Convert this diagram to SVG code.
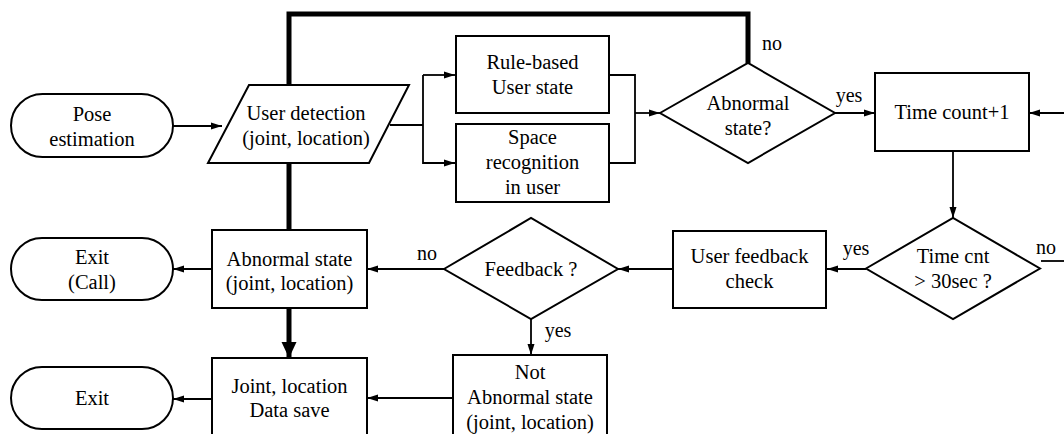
<svg xmlns="http://www.w3.org/2000/svg" width="1064" height="434" viewBox="0 0 1064 434">
<style>
.s{fill:#fff;stroke:#000;stroke-width:2}
.c{fill:none;stroke:#000;stroke-width:1.8}
.k{fill:none;stroke:#000;stroke-width:5}
text{font-family:'Liberation Serif','Times New Roman',serif;font-size:20.5px;fill:#000;text-anchor:middle}
.l{font-size:20px}
</style>
<defs>
<marker id="a" markerUnits="userSpaceOnUse" markerWidth="11" markerHeight="8" refX="11" refY="4" orient="auto"><path d="M0,0.5 L11,4 L0,7.5 z" fill="#000"/></marker>
<marker id="b" markerUnits="userSpaceOnUse" markerWidth="16" markerHeight="16" refX="16" refY="8" orient="auto"><path d="M0,0.5 L16,8 L0,15.5 z" fill="#000"/></marker>
</defs>
<rect width="1064" height="434" fill="#fff"/>
<g id="connectors">
<polyline class="k" points="289,85 289,14 748,14 748,63"/>
<line class="k" x1="289" y1="163" x2="289" y2="230"/>
<line class="k" x1="289" y1="308" x2="289" y2="358" marker-end="url(#b)"/>
<line class="c" x1="173" y1="126" x2="222" y2="126" marker-end="url(#a)"/>
<polyline class="c" points="390,125 423,125"/>
<polyline class="c" points="423,75 423,163 455,163" marker-end="url(#a)"/>
<line class="c" x1="423" y1="75" x2="455" y2="75" marker-end="url(#a)"/>
<polyline class="c" points="609,75 635,75 635,163 609,163"/>
<line class="c" x1="635" y1="113" x2="660" y2="113" marker-end="url(#a)"/>
<line class="c" x1="835" y1="113" x2="875" y2="113" marker-end="url(#a)"/>
<line class="c" x1="1064" y1="113" x2="1029" y2="113" marker-end="url(#a)"/>
<line class="c" x1="953" y1="151" x2="953" y2="218" marker-end="url(#a)"/>
<line class="c" x1="1041" y1="261" x2="1064" y2="261"/>
<line class="c" x1="866" y1="269" x2="827" y2="269" marker-end="url(#a)"/>
<line class="c" x1="673" y1="269" x2="618" y2="269" marker-end="url(#a)"/>
<line class="c" x1="444" y1="269" x2="367" y2="269" marker-end="url(#a)"/>
<line class="c" x1="212" y1="269" x2="173" y2="269" marker-end="url(#a)"/>
<line class="c" x1="531" y1="319" x2="531" y2="355" marker-end="url(#a)"/>
<line class="c" x1="453" y1="398" x2="367" y2="398" marker-end="url(#a)"/>
<line class="c" x1="212" y1="399" x2="173" y2="399" marker-end="url(#a)"/>
<text class="l" x="772" y="50">no</text>
<text class="l" x="849" y="102">yes</text>
<text class="l" x="856" y="255">yes</text>
<text class="l" x="1046" y="254">no</text>
<text class="l" x="427" y="260">no</text>
<text class="l" x="558" y="337">yes</text>
</g>
<g id="pose">
<rect class="s" x="11" y="94" width="162" height="63" rx="31.5"/>
<text x="92" y="121">Pose</text>
<text x="92" y="146">estimation</text>
</g>
<g id="detect">
<polygon class="s" points="249,85 409,85 369,163 208,163"/>
<text x="306" y="120">User detection</text>
<text x="306" y="145">(joint, location)</text>
</g>
<g id="rule">
<rect class="s" x="456" y="36" width="153" height="77"/>
<text x="532.5" y="69">Rule-based</text>
<text x="532.5" y="94">User state</text>
</g>
<g id="space">
<rect class="s" x="456" y="124" width="153" height="78"/>
<text x="532.5" y="144">Space</text>
<text x="532.5" y="169">recognition</text>
<text x="532.5" y="194">in user</text>
</g>
<g id="abn-q">
<polygon class="s" points="660,113 748,63 835,113 748,163"/>
<text x="748" y="110">Abnormal</text>
<text x="748" y="135">state?</text>
</g>
<g id="timecount">
<rect class="s" x="875" y="73" width="154" height="78"/>
<text x="952" y="119">Time count+1</text>
</g>
<g id="timecnt-q">
<polygon class="s" points="866,268.5 953,218 1040,268.5 953,319"/>
<text x="953" y="263">Time cnt</text>
<text x="953" y="288">&gt; 30sec ?</text>
</g>
<g id="feedback-check">
<rect class="s" x="673" y="231" width="153" height="77"/>
<text x="749.5" y="263">User feedback</text>
<text x="749.5" y="288">check</text>
</g>
<g id="feedback-q">
<polygon class="s" points="444,269 531,218 618,269 531,319"/>
<text x="531" y="276">Feedback ?</text>
</g>
<g id="not-abn">
<rect class="s" x="453" y="355" width="154" height="100"/>
<text x="530" y="379">Not</text>
<text x="530" y="404">Abnormal state</text>
<text x="530" y="429">(joint, location)</text>
</g>
<g id="abn">
<rect class="s" x="212" y="230" width="155" height="78"/>
<text x="289.5" y="266">Abnormal state</text>
<text x="289.5" y="290">(joint, location)</text>
</g>
<g id="exit-call">
<rect class="s" x="11" y="238" width="162" height="62" rx="31"/>
<text x="92" y="264">Exit</text>
<text x="92" y="289">(Call)</text>
</g>
<g id="save">
<rect class="s" x="212" y="358" width="155" height="100"/>
<text x="289.5" y="393">Joint, location</text>
<text x="289.5" y="417">Data save</text>
</g>
<g id="exit">
<rect class="s" x="11" y="367" width="162" height="62" rx="31"/>
<text x="92" y="405">Exit</text>
</g>
</svg>
